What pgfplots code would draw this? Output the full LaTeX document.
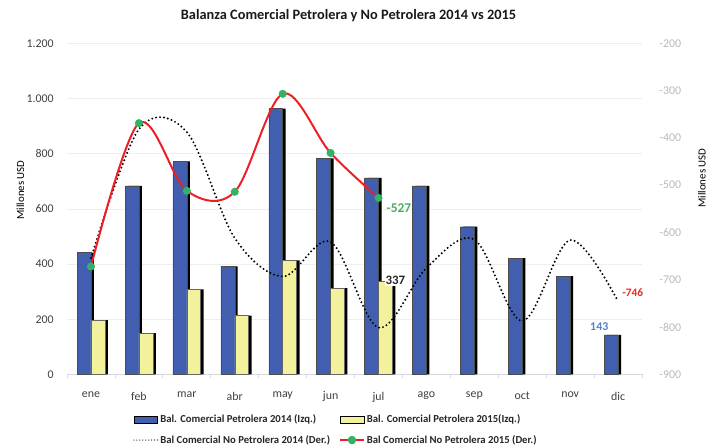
\documentclass[border=0pt]{standalone}
\usepackage{pgfplots}
\pgfplotsset{compat=1.18}
\usepackage{pgfplotstable}
\usepackage{fontspec}
\setmainfont{Carlito}

\definecolor{barblue}{RGB}{66,95,175}
\definecolor{baryellow}{RGB}{243,241,155}
\definecolor{linered}{RGB}{237,30,36}
\definecolor{markgreen}{RGB}{50,178,100}
\definecolor{lblgreen}{RGB}{80,170,100}
\definecolor{lblblue}{RGB}{85,130,200}
\definecolor{lblred}{RGB}{235,40,40}
\definecolor{ticklight}{RGB}{185,185,185}
\definecolor{tickdark}{RGB}{64,64,64}
\definecolor{gridc}{RGB}{238,238,238}
\definecolor{axisc}{RGB}{217,217,217}

\pgfplotstableread{
x p14
0 441
1 683
2 772
3 391
4 963
5 783
6 712
7 683
8 535
9 421
10 356
11 143
}\petroA
\pgfplotstableread{
x p15
0 197
1 150
2 308
3 213
4 413
5 313
6 337
}\petroB
\pgfplotstableread{
x np14
0 -654
1 -382
2 -388
3 -612
4 -693
5 -620
6 -801
7 -675
8 -615
9 -787
10 -616
11 -746
}\nopetroA
\pgfplotstableread{
x np15
0 -672
1 -369
2 -512
3 -514
4 -307
5 -432
6 -527
}\nopetroB

\pgfplotsset{
  base/.style={
    at={(67.5bp,70bp)}, anchor=south west,
    scale only axis, width=579bp, height=333.5bp,
    xmin=-0.5, xmax=11.5,
    /pgf/number format/assume math mode=true,
    /pgf/number format/1000 sep={.},
    clip=false,
  },
  bluelegend/.style={legend image code/.code={\draw[fill=barblue, draw=black, line width=0.6bp] (0bp,-3.5bp) rectangle (24bp,3.5bp);}},
  yellowlegend/.style={legend image code/.code={\draw[fill=baryellow, draw=black, line width=0.6bp] (0bp,-3.5bp) rectangle (24bp,3.5bp);}},
  dotlegend/.style={legend image code/.code={\draw[black, line width=1.2bp, dash pattern=on 0bp off 3bp, line cap=round] (0bp,0bp) -- (24bp,0bp);}},
  redlegend/.style={legend image code/.code={\draw[linered, line width=2bp] (0bp,0bp) -- (24bp,0bp); \fill[markgreen] (12bp,0bp) circle (3.2bp);}},
}

\begin{document}
\begin{tikzpicture}
\path (0,0) rectangle (709bp,447bp);
\begin{axis}[base,
  ymin=0, ymax=1200, ytick={0,200,...,1200},
  axis x line*=bottom, axis y line*=left,
  x axis line style={axisc, line width=0.8bp, -},
  y axis line style={draw=none},
  xtick={0,...,11},
  xticklabels={ene,feb,mar,abr,may,jun,jul,ago,sep,oct,nov,dic},
  minor xtick={-0.5,0.5,...,11.5},
  major tick length=0pt, minor tick length=4bp,
  tick align=outside,
  minor tick style={axisc, line width=0.8bp},
  ymajorgrids, grid style={gridc, line width=0.6bp},
  yticklabel style={tickdark, font=\fontsize{12}{14}\selectfont, xshift=-10bp},
  xticklabel style={tickdark, font=\fontsize{12}{14}\selectfont, yshift=-14bp},
  ylabel={Millones USD},
  ylabel style={at={(axis description cs:-0.081,0.557)}, anchor=center, font=\fontsize{11}{13}\selectfont, black},
  title={Balanza Comercial Petrolera y No Petrolera 2014 vs 2015},
  title style={at={(axis description cs:0.4896,1.0645)}, anchor=center, font=\bfseries\fontsize{14.5}{17}\selectfont, black!90},
  ybar, bar width=14bp,
]
\addplot[fill=black, draw=none, bar shift=-4bp] table[x=x,y=p14] {\petroA};
\addplot[fill=barblue, draw=black!70, line width=0.5bp, bar shift=-7bp] table[x=x,y=p14] {\petroA};
\addplot[fill=black, draw=none, bar shift=10bp] table[x=x,y=p15] {\petroB};
\addplot[fill=baryellow, draw=black!60, line width=0.5bp, bar shift=7bp] table[x=x,y=p15] {\petroB};
\node[font=\bfseries\fontsize{13}{15}\selectfont, text=black!85, fill=white, inner sep=1bp] at (axis cs:6,337) [xshift=17bp, yshift=1bp] {337};
\node[font=\bfseries\fontsize{12}{14}\selectfont, text=lblblue, inner sep=1bp] at (axis cs:11,143) [xshift=-19bp, yshift=8bp] {143};
\end{axis}

\begin{axis}[base,
  ymin=-900, ymax=-200, ytick={-900,-800,...,-200},
  axis y line*=right, axis x line=none,
  y axis line style={draw=none},
  major tick length=0pt,
  yticklabel style={ticklight, font=\fontsize{12}{14}\selectfont, xshift=14bp},
  ylabel={Millones USD},
  ylabel style={at={(axis description cs:1.104,0.593)}, anchor=center, font=\fontsize{11}{13}\selectfont, black},
  legend columns=2,
  legend cell align=left,
  legend style={
    at={(axis description cs:0.1149,-0.116)}, anchor=north west,
    draw=none, fill=none, inner sep=0pt,
    font=\bfseries\fontsize{10.8}{12}\selectfont, text=black!85,
    /tikz/every even column/.append style={column sep=7bp},
    row sep=7bp,
  },
]
\addlegendimage{bluelegend}
\addlegendentry{Bal. Comercial Petrolera 2014 (Izq.)}
\addlegendimage{yellowlegend}
\addlegendentry{Bal. Comercial Petrolera 2015(Izq.)}
\addplot[black, line width=2.2bp, dash pattern=on 0bp off 4bp, line cap=round, smooth, tension=0.55, mark=none, dotlegend]
  table[x=x,y=np14] {\nopetroA};
\addlegendentry{Bal Comercial No Petrolera 2014 (Der.)}
\addplot[linered, line width=2bp, smooth, tension=0.55, mark=*, mark size=3bp, mark options={fill=markgreen, draw=markgreen}, redlegend]
  table[x=x,y=np15] {\nopetroB};
\addlegendentry{Bal Comercial No Petrolera 2015 (Der.)}
\node[font=\bfseries\fontsize{13.5}{15}\selectfont, text=lblgreen, anchor=west, inner sep=1bp] at (axis cs:6,-527) [xshift=7bp, yshift=-10bp] {-527};
\node[font=\bfseries\fontsize{11.5}{13}\selectfont, text=lblred, anchor=west, inner sep=1bp] at (axis cs:11,-746) [xshift=3bp, yshift=9bp] {-746};
\end{axis}
\end{tikzpicture}
\end{document}
